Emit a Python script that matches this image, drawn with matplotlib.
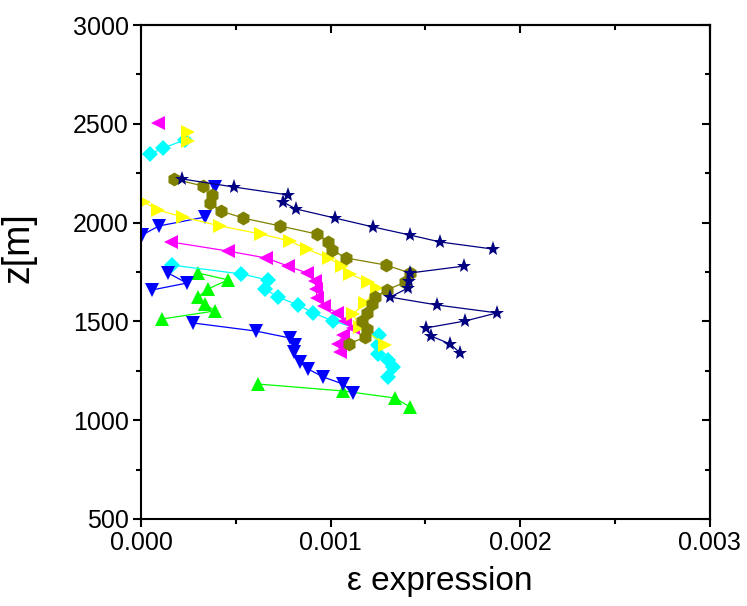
import matplotlib
matplotlib.use("Agg")
import matplotlib.pyplot as plt
from matplotlib.ticker import MultipleLocator, FormatStrFormatter

plt.rcParams['font.family'] = ['Liberation Sans', 'DejaVu Sans']

# ---- data (strain, depth) ----
green_x = [0.000298, 0.000457, 0.000351, 0.000298, 0.000335, 0.000388, 0.000108]
green_y = [1745, 1710, 1664, 1623, 1588, 1553, 1512]
green2_x = [0.000615, 0.001064, 0.001339, 0.001418]
green2_y = [1183, 1148, 1112, 1067]

cyan_top_x = [0.000045, 0.000114, 0.000230]
cyan_top_y = [2347, 2378, 2418]
cyan_x = [0.000161, 0.000526, 0.000668, 0.000652, 0.000721, 0.000827, 0.000906,
          0.001012, 0.001255, 0.001249, 0.001249, 0.001302, 0.001329, 0.001302]
cyan_y = [1785, 1740, 1710, 1664, 1623, 1583, 1543, 1502, 1431, 1381, 1335,
          1305, 1269, 1219]

blue_top_x = [0.000003, 0.000092, 0.000335]
blue_top_y = [1937, 1983, 2028]
blue_single_x = [0.000388]
blue_single_y = [2180]
blue_mid_x = [0.000140, 0.000240, 0.000055]
blue_mid_y = [1745, 1694, 1659]
blue_x = [0.000272, 0.000605, 0.000784, 0.000811, 0.000806, 0.000837, 0.000880,
          0.000959, 0.001064, 0.001117]
blue_y = [1492, 1451, 1416, 1381, 1345, 1295, 1259, 1219, 1183, 1138]

magenta_single_x = [0.000087]
magenta_single_y = [2504]
magenta_x = [0.000156, 0.000457, 0.000658, 0.000774, 0.000874, 0.000917, 0.000922,
             0.000927, 0.000964, 0.001033, 0.001075, 0.001117, 0.001064, 0.001038,
             0.001049]
magenta_y = [1902, 1856, 1821, 1780, 1745, 1704, 1664, 1618, 1578, 1543, 1502,
             1467, 1431, 1386, 1345]

yellow_top_x = [0.000247, 0.000247]
yellow_top_y = [2460, 2414]
yellow_x = [0.000013, 0.000087, 0.000219, 0.000415, 0.000631, 0.000784, 0.000874,
            0.000990, 0.001057, 0.001101, 0.001196, 0.001244, 0.001181, 0.001117,
            0.001154, 0.001286]
yellow_y = [2104, 2064, 2028, 1983, 1942, 1907, 1866, 1821, 1780, 1740, 1699,
            1669, 1593, 1537, 1472, 1381]

olive_x = [0.000172, 0.000325, 0.000372, 0.000362, 0.000420, 0.000536, 0.000732,
           0.000927, 0.000985, 0.001006, 0.001080, 0.001292, 0.001418, 0.001392,
           0.001297, 0.001233, 0.001218, 0.001191, 0.001165, 0.001191, 0.001181,
           0.001096]
olive_y = [2221, 2185, 2140, 2099, 2059, 2023, 1983, 1942, 1902, 1861, 1821, 1785,
           1745, 1699, 1659, 1623, 1588, 1543, 1502, 1462, 1421, 1386]

navy_x = [0.000214, 0.000489, 0.000774, 0.000748, 0.000816, 0.001022, 0.001223,
          0.001418, 0.001577, 0.001857]
navy_y = [2221, 2180, 2140, 2104, 2069, 2023, 1978, 1937, 1902, 1866]
navy2_x = [0.001704, 0.001418, 0.001413, 0.001408, 0.001313, 0.001561, 0.001878,
           0.001709, 0.001503, 0.001529, 0.001630, 0.001683]
navy2_y = [1780, 1745, 1704, 1669, 1623, 1583, 1543, 1502, 1467, 1426, 1386, 1340]

x_ticks = [0.000, 0.001, 0.002, 0.003]
y_ticks = [500, 1000, 1500, 2000, 2500, 3000]

fig = plt.figure(figsize=(7.47, 6.06), dpi=100)
ax = fig.add_axes([0.1894, 0.1436, 0.7604, 0.8151])

lw = 0.9
ms = 9.5

def series(x, y, color, marker, size=ms):
    ax.plot(x, y, color=color, marker=marker, markersize=size, linewidth=lw,
            markeredgewidth=0, linestyle='-')

series(green_x, green_y, '#00FF00', '^')
series(green2_x, green2_y, '#00FF00', '^')
series(cyan_top_x, cyan_top_y, '#00FFFF', 'D', 8)
series(cyan_x, cyan_y, '#00FFFF', 'D', 8)
series(blue_top_x, blue_top_y, '#0000FF', 'v')
series(blue_single_x, blue_single_y, '#0000FF', 'v')
series(blue_mid_x, blue_mid_y, '#0000FF', 'v')
series(blue_x, blue_y, '#0000FF', 'v')
series(magenta_single_x, magenta_single_y, '#FF00FF', '<')
series(magenta_x, magenta_y, '#FF00FF', '<')
series(yellow_top_x, yellow_top_y, '#FFFF00', '>')
series(yellow_x, yellow_y, '#FFFF00', '>')
series(olive_x, olive_y, '#808000', 'h', 10)
series(navy_x, navy_y, '#000080', '*', 11)
series(navy2_x, navy2_y, '#000080', '*', 11)

ax.set_xlim(0, 0.003)
ax.set_ylim(500, 3000)
ax.set_xticks(x_ticks)
ax.set_yticks(y_ticks)
ax.xaxis.set_major_formatter(FormatStrFormatter('%.3f'))
ax.xaxis.set_minor_locator(MultipleLocator(0.0005))
ax.yaxis.set_minor_locator(MultipleLocator(250))

for s in ax.spines.values():
    s.set_linewidth(1.5)

ax.tick_params(which='major', direction='out', length=6, width=1.5,
               labelsize=18, pad=3)
ax.tick_params(which='minor', direction='out', length=3.5, width=1.5)

# inward ticks on the top and right axes
secx = ax.secondary_xaxis('top')
secx.set_xticks(x_ticks)
secx.xaxis.set_minor_locator(MultipleLocator(0.0005))
secx.tick_params(which='major', direction='in', length=6, width=1.5, labeltop=False)
secx.tick_params(which='minor', direction='in', length=3.5, width=1.5)
secx.spines['top'].set_linewidth(1.5)
secy = ax.secondary_yaxis('right')
secy.set_yticks(y_ticks)
secy.yaxis.set_minor_locator(MultipleLocator(250))
secy.tick_params(which='major', direction='in', length=6, width=1.5, labelright=False)
secy.tick_params(which='minor', direction='in', length=3.5, width=1.5)
secy.spines['right'].set_linewidth(1.5)

ax.set_xlabel('ε expression', fontsize=24)
ax.set_ylabel('z[m]', fontsize=27)
ax.xaxis.set_label_coords(0.525, -0.095)
ax.yaxis.set_label_coords(-0.185, 0.55)

fig.savefig('out.png', dpi=100)
